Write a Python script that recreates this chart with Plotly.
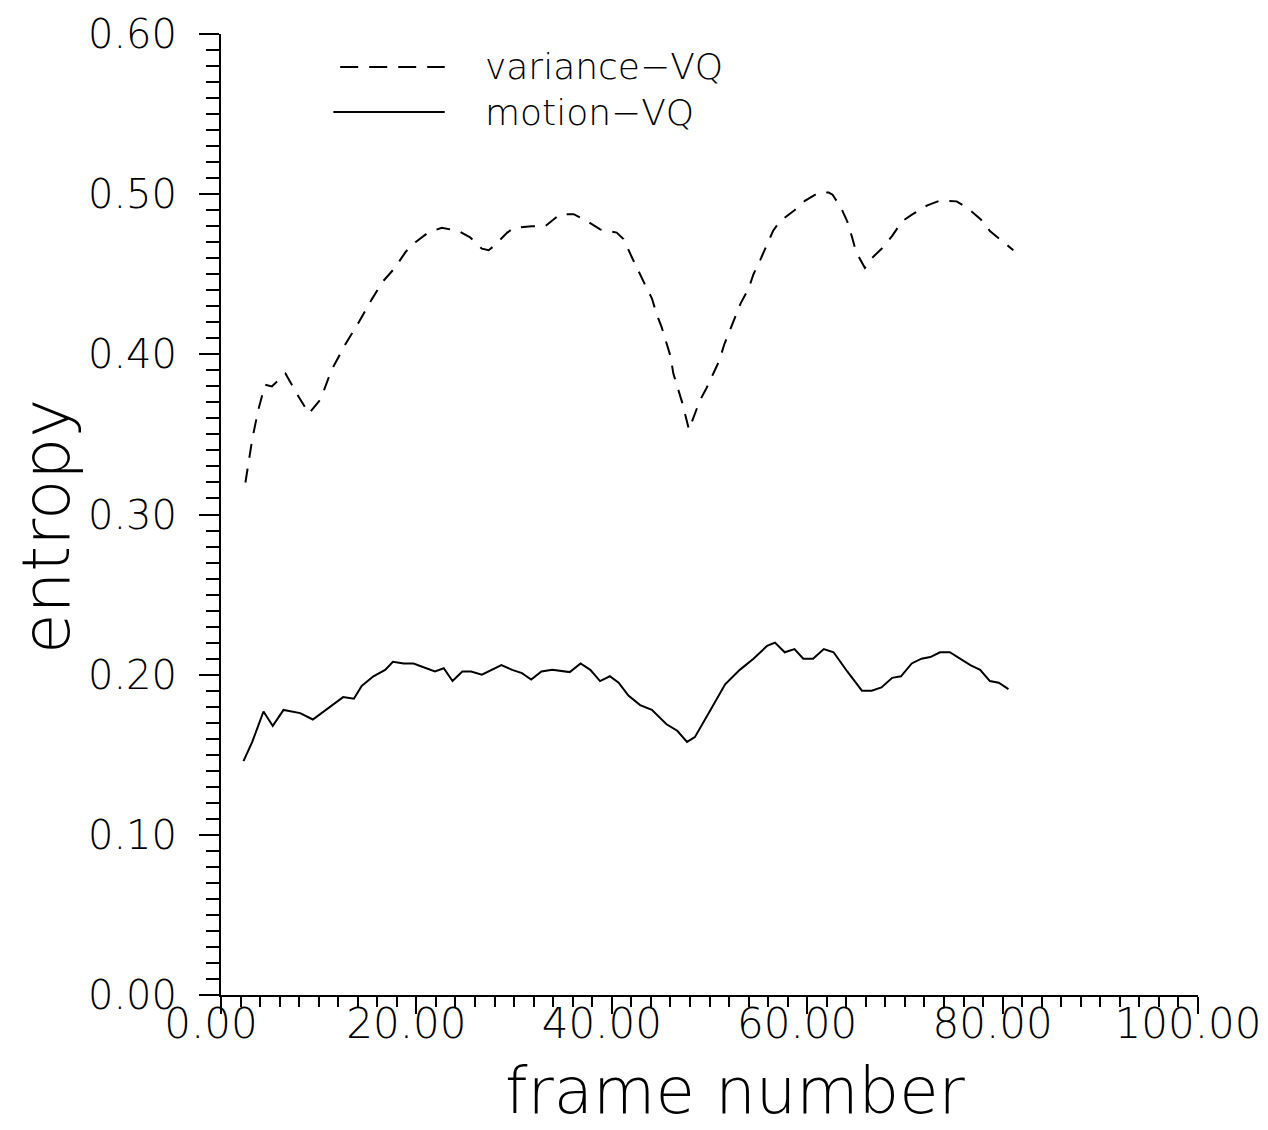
import plotly.graph_objects as go

# motion-VQ (solid)
motion_x = [2.3, 3.2, 4.35, 5.3, 6.4, 8.1, 9.4, 10.7, 12.5, 13.6, 14.4, 15.6, 16.8, 17.6, 18.7, 19.7,
            20.9, 21.9, 22.8, 23.7, 24.7, 25.6, 26.7, 27.7, 28.7, 29.8, 30.8, 31.75, 32.8, 33.9, 35.7,
            36.8, 37.8, 38.8, 39.8, 40.7, 41.7, 42.9, 44.1, 45.6, 46.7, 47.7, 48.5, 50.1, 51.6, 53.1,
            54.5, 55.9, 56.7, 57.7, 58.7, 59.6, 60.6, 61.7, 62.7, 64.1, 65.6, 66.6, 67.6, 68.7, 69.6,
            70.7, 71.7, 72.6, 73.6, 74.6, 75.6, 76.7, 77.7, 78.7, 79.6, 80.6]
motion_y = [0.146, 0.158, 0.177, 0.168, 0.178, 0.176, 0.172, 0.178, 0.186, 0.185, 0.193, 0.199, 0.203,
            0.208, 0.207, 0.207, 0.204, 0.202, 0.204, 0.196, 0.202, 0.202, 0.200, 0.203, 0.206, 0.203,
            0.201, 0.197, 0.202, 0.203, 0.2016, 0.207, 0.203, 0.196, 0.199, 0.195, 0.187, 0.181, 0.178,
            0.169, 0.165, 0.158, 0.161, 0.178, 0.194, 0.203, 0.210, 0.218, 0.220, 0.214, 0.216, 0.210,
            0.210, 0.216, 0.214, 0.202, 0.190, 0.190, 0.192, 0.198, 0.199, 0.207, 0.210, 0.211, 0.214,
            0.214, 0.210, 0.206, 0.203, 0.196, 0.195, 0.191]

# variance-VQ (dashed)
variance_x = [2.5, 3.2, 3.8, 4.5, 5.2, 6.6, 7.8, 9.0, 10.2, 11.3, 12.7, 14.1, 15.4, 16.5, 17.8, 18.9,
              19.9, 21.2, 22.6, 24.3, 25.5, 26.7, 27.4, 28.0, 29.3, 30.0, 31.8, 33.2, 34.7, 36.1, 37.5,
              38.8, 40.5, 41.2, 42.1, 42.7, 43.4, 44.1, 44.6, 45.1, 45.6, 46.0, 46.3, 46.7, 47.2, 47.9,
              49.0, 49.7, 50.4, 51.0, 51.5, 52.0, 52.7, 53.2, 54.0, 54.5, 55.2, 55.8, 56.5, 57.2, 58.7,
              59.8, 61.2, 62.2, 62.6, 63.5, 64.1, 64.6, 65.0, 65.9, 66.6, 67.8, 68.7, 69.7, 70.8, 72.3,
              73.6, 75.3, 76.5, 77.8, 78.7, 80.0, 81.1]
variance_y = [0.320, 0.347, 0.365, 0.381, 0.380, 0.388, 0.375, 0.363, 0.372, 0.390, 0.406, 0.420, 0.434,
              0.445, 0.454, 0.464, 0.470, 0.476, 0.479, 0.477, 0.473, 0.466, 0.465, 0.468, 0.476, 0.479,
              0.480, 0.480, 0.4875, 0.4875, 0.483, 0.478, 0.476, 0.472, 0.460, 0.452, 0.4435, 0.435,
              0.425, 0.417, 0.407, 0.399, 0.388, 0.380, 0.370, 0.353, 0.371, 0.379, 0.388, 0.396, 0.406,
              0.414, 0.424, 0.432, 0.441, 0.450, 0.459, 0.467, 0.477, 0.483, 0.490, 0.496, 0.501, 0.501,
              0.4997, 0.491, 0.483, 0.473, 0.464, 0.454, 0.460, 0.467, 0.474, 0.483, 0.4875, 0.493,
              0.496, 0.4955, 0.491, 0.484, 0.477, 0.4705, 0.465]

x_ticks = [0, 20, 40, 60, 80, 100]
y_ticks = [0.0, 0.1, 0.2, 0.3, 0.4, 0.5, 0.6]
series_names = ["variance\u2212VQ", "motion\u2212VQ"]
x_title = "frame number"
y_title = "entropy"

FONT = "DejaVu Sans"
fig = go.Figure()
fig.add_trace(go.Scatter(x=variance_x, y=variance_y, mode="lines", name=series_names[0],
                         line=dict(color="black", width=2, dash="14px,11px"), showlegend=False))
fig.add_trace(go.Scatter(x=motion_x, y=motion_y, mode="lines", name=series_names[1],
                         line=dict(color="black", width=2), showlegend=False))

# legend drawn manually (long line samples)
leg_y = [0.9657, 0.9188]
fig.add_shape(type="line", xref="paper", yref="paper", x0=0.122, x1=0.229, y0=leg_y[0], y1=leg_y[0],
              line=dict(color="black", width=2, dash="18px,11px"))
fig.add_shape(type="line", xref="paper", yref="paper", x0=0.115, x1=0.229, y0=leg_y[1], y1=leg_y[1],
              line=dict(color="black", width=2))
for name, yy in zip(series_names, leg_y):
    fig.add_annotation(xref="paper", yref="paper", x=0.268, y=yy, text=name, showarrow=False,
                       xanchor="left", yanchor="middle",
                       font=dict(family=FONT, size=36, color="black", weight=200))

# axis titles
fig.add_annotation(xref="paper", yref="paper", x=0.527, y=-0.1400, text=x_title, showarrow=False,
                   xanchor="center", yanchor="bottom", font=dict(family=FONT, size=64, color="black", weight=200))
fig.add_annotation(xref="paper", yref="paper", x=-0.178, y=0.487, text=y_title, showarrow=False, textangle=-90,
                   xanchor="center", yanchor="middle", font=dict(family=FONT, size=66, color="black", weight=200))

fig.update_layout(
    width=1268, height=1130,
    margin=dict(l=221, r=70, t=34, b=135, autoexpand=False),
    paper_bgcolor="white", plot_bgcolor="white",
    font=dict(family=FONT, color="black", weight=200),
)
fig.update_xaxes(range=[0, 100], tickvals=x_ticks, ticktext=[f"{v:.2f}" for v in x_ticks],
                 showgrid=False, zeroline=False, showline=True, linecolor="black", linewidth=2,
                 ticks="outside", ticklen=17, tickwidth=2, tickcolor="black",
                 minor=dict(dtick=2, ticks="outside", ticklen=10, tickwidth=1.5, tickcolor="black"),
                 tickfont=dict(size=42, family=FONT, weight=200), ticklabelstandoff=-26,
                 ticklabelshift=-10, ticklabeloverflow="allow", automargin=False)
fig.update_yaxes(range=[0, 0.6], tickvals=y_ticks, ticktext=[f"{v:.2f}" for v in y_ticks],
                 showgrid=False, zeroline=False, showline=True, linecolor="black", linewidth=2,
                 ticks="outside", ticklen=20, tickwidth=2, tickcolor="black",
                 minor=dict(dtick=0.01, ticks="outside", ticklen=13, tickwidth=1.5, tickcolor="black"),
                 tickfont=dict(size=40, family=FONT, weight=200), ticklabelstandoff=14,
                 ticklabeloverflow="allow", automargin=False)

fig.write_html("out.html")
